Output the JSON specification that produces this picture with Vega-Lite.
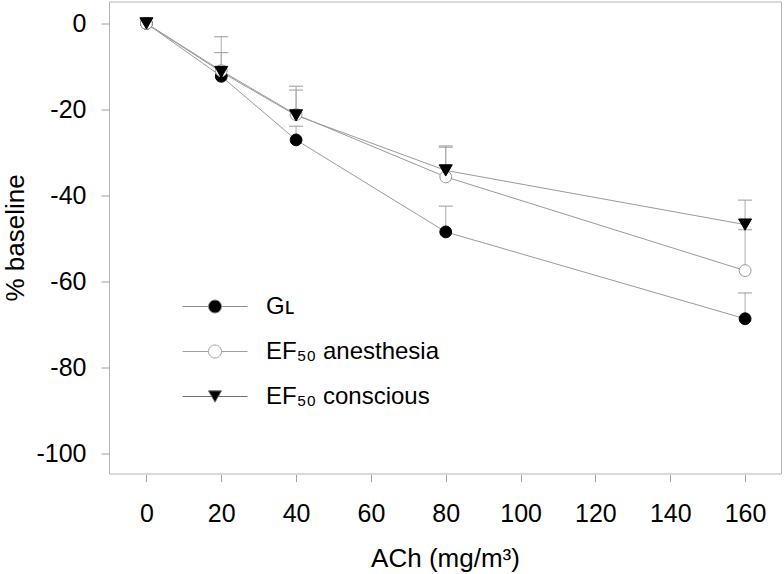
{
  "$schema": "https://vega.github.io/schema/vega-lite/v6.json",
  "width": 672,
  "height": 472,
  "autosize": {"type": "none"},
  "padding": {"left": 109, "top": 1.5, "right": 3, "bottom": 100.5},
  "background": "white",
  "config": {
    "view": {"stroke": "#b4b4b4", "strokeWidth": 1},
    "font": "Liberation Sans",
    "axis": {
      "grid": false,
      "domain": false,
      "tickColor": "#a0a0a0",
      "tickWidth": 1,
      "labelFont": "Liberation Sans",
      "titleFont": "Liberation Sans",
      "labelColor": "#000",
      "titleColor": "#000",
      "labelFontSize": 25,
      "titleFontSize": 26,
      "titleFontWeight": "normal"
    },
    "legend": {
      "orient": "none",
      "legendX": 94,
      "legendY": 293,
      "padding": 0,
      "labelFont": "Liberation Sans",
      "labelFontSize": 24,
      "labelColor": "#000",
      "labelOffset": 39,
      "labelLimit": 400,
      "rowPadding": 21,
      "symbolSize": 169,
      "symbolStrokeWidth": 1
    }
  },
  "data": {
    "values": [
      {"series": "GL", "x": 0, "y": 0, "upper": null},
      {"series": "GL", "x": 20, "y": -12.3, "upper": null},
      {"series": "GL", "x": 40, "y": -27.1, "upper": -23.9},
      {"series": "GL", "x": 80, "y": -48.5, "upper": -42.5},
      {"series": "GL", "x": 160, "y": -68.7, "upper": -62.7},
      {"series": "EF50 anesthesia", "x": 0, "y": 0, "upper": null},
      {"series": "EF50 anesthesia", "x": 20, "y": -11.0, "upper": -3.1},
      {"series": "EF50 anesthesia", "x": 40, "y": -21.2, "upper": -14.6},
      {"series": "EF50 anesthesia", "x": 80, "y": -35.7, "upper": -28.8},
      {"series": "EF50 anesthesia", "x": 160, "y": -57.5, "upper": -48.0},
      {"series": "EF50 conscious", "x": 0, "y": 0, "upper": null},
      {"series": "EF50 conscious", "x": 20, "y": -11.3, "upper": -6.8},
      {"series": "EF50 conscious", "x": 40, "y": -21.4, "upper": -15.5},
      {"series": "EF50 conscious", "x": 80, "y": -34.2, "upper": -28.5},
      {"series": "EF50 conscious", "x": 160, "y": -46.8, "upper": -41.1}
    ]
  },
  "encoding": {
    "x": {
      "field": "x",
      "type": "quantitative",
      "scale": {"domain": [-10, 169.6], "nice": false, "zero": false},
      "axis": {
        "values": [0, 20, 40, 60, 80, 100, 120, 140, 160],
        "title": "ACh (mg/m³)",
        "offset": 1,
        "tickSize": 7,
        "labelBaseline": "alphabetic",
        "labelPadding": 40,
        "titleBaseline": "alphabetic",
        "titleY": 92
      }
    },
    "y": {
      "field": "y",
      "type": "quantitative",
      "scale": {"domain": [-104.7, 5.1], "nice": false, "zero": false},
      "axis": {
        "values": [0, -20, -40, -60, -80, -100],
        "labelExpr": "replace(datum.label, '−', '-')",
        "title": "% baseline",
        "tickSize": 8,
        "labelPadding": 15,
        "titleBaseline": "alphabetic",
        "titleX": -86,
        "titleY": 236
      }
    }
  },
  "layer": [
    {
      "mark": {"type": "line", "color": "#9a9a9a", "strokeWidth": 1},
      "encoding": {"detail": {"field": "series"}, "order": {"field": "x"}}
    },
    {
      "transform": [{"filter": "datum.upper != null"}],
      "mark": {"type": "rule", "color": "#ababab", "strokeWidth": 1},
      "encoding": {"y2": {"field": "upper"}}
    },
    {
      "transform": [{"filter": "datum.upper != null"}],
      "mark": {"type": "tick", "orient": "horizontal", "size": 14, "thickness": 1, "color": "#9a9a9a", "opacity": 1},
      "encoding": {"y": {"field": "upper", "type": "quantitative"}}
    },
    {
      "transform": [{"filter": "datum.series == 'GL'"}],
      "mark": {"type": "point", "shape": "circle", "filled": true, "fill": "#000", "stroke": "#000", "strokeWidth": 1, "size": 140, "opacity": 1}
    },
    {
      "transform": [{"filter": "datum.series == 'EF50 anesthesia'"}],
      "mark": {"type": "point", "shape": "circle", "filled": true, "fill": "#fff", "stroke": "#999", "strokeWidth": 1, "size": 140, "opacity": 1}
    },
    {
      "transform": [{"filter": "datum.series == 'EF50 conscious'"}],
      "mark": {"type": "point", "shape": "triangle-down", "filled": true, "fill": "#000", "stroke": "#000", "strokeWidth": 1, "size": 170, "opacity": 1}
    },
    {
      "transform": [{"filter": "false"}],
      "mark": {"type": "point", "filled": true, "size": 169, "strokeWidth": 1, "opacity": 1},
      "encoding": {
        "shape": {
          "field": "series",
          "type": "nominal",
          "scale": {
            "domain": ["GL", "EF50 anesthesia", "EF50 conscious"],
            "range": [
              "M-5,0H-1M1,0H5M-1,0A1,1,0,1,1,1,0A1,1,0,1,1,-1,0Z",
              "M-5,0H-1M1,0H5M-1,0A1,1,0,1,1,1,0A1,1,0,1,1,-1,0Z",
              "M-5,0H-0.5M0.5,0H5M0,0.866L-1,-0.866L1,-0.866Z"
            ]
          },
          "legend": {"title": null, "labelExpr": "datum.label == 'GL' ? 'Gʟ' : replace(datum.label, '50', '₅₀')"}
        },
        "fill": {
          "field": "series",
          "type": "nominal",
          "scale": {"domain": ["GL", "EF50 anesthesia", "EF50 conscious"], "range": ["#000000", "#ffffff", "#000000"]},
          "legend": {"title": null, "labelExpr": "datum.label == 'GL' ? 'Gʟ' : replace(datum.label, '50', '₅₀')"}
        },
        "stroke": {
          "field": "series",
          "type": "nominal",
          "scale": {"domain": ["GL", "EF50 anesthesia", "EF50 conscious"], "range": ["#8c8c8c", "#a0a0a0", "#6e6e6e"]},
          "legend": {"title": null, "labelExpr": "datum.label == 'GL' ? 'Gʟ' : replace(datum.label, '50', '₅₀')"}
        }
      }
    }
  ]
}
